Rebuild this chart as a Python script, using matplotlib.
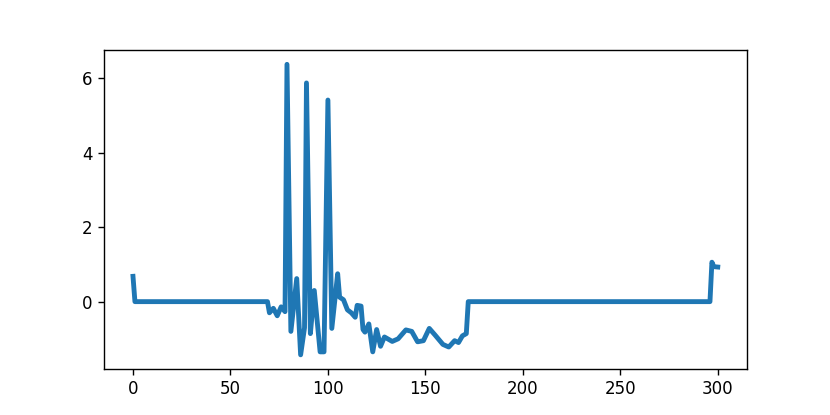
import matplotlib
matplotlib.use('Agg')
import matplotlib.pyplot as plt
from matplotlib.ticker import MultipleLocator

# sample positions and values
steps = [0, 1, 69, 70, 72, 74, 76, 78, 79, 81, 84, 86, 88, 89, 91, 93, 96, 98,
         100, 102, 105, 106, 108, 110, 112, 114, 115, 117, 118, 119, 121, 123, 125,
         127, 129, 133, 136, 140, 143, 146, 149, 152, 155, 159, 162, 165, 167, 169,
         171, 172, 296, 297, 298, 300]
values = [0.68, 0.0, 0.0, -0.3, -0.18, -0.38, -0.14, -0.27, 6.38, -0.8, 0.62, -1.43,
          -0.7, 5.88, -0.86, 0.3, -1.35, -1.35, 5.42, -0.72, 0.75, 0.12, 0.05, -0.22,
          -0.3, -0.42, -0.1, -0.12, -0.75, -0.82, -0.6, -1.35, -0.75, -1.2, -0.95,
          -1.07, -1.0, -0.76, -0.8, -1.08, -1.05, -0.72, -0.9, -1.15, -1.22, -1.05,
          -1.1, -0.92, -0.86, 0.0, 0.0, 1.06, 0.94, 0.93]

plt.rcParams['font.size'] = 12
plt.rcParams['axes.linewidth'] = 1.0

fig = plt.figure(figsize=(8.3, 4.15), dpi=100)
ax = plt.gca()
ax.plot(steps, values, color='#1f77b4', linewidth=3.5)
ax.yaxis.set_major_locator(MultipleLocator(2))
ax.tick_params(length=4.5, width=1.0)
plt.savefig('out.png')
